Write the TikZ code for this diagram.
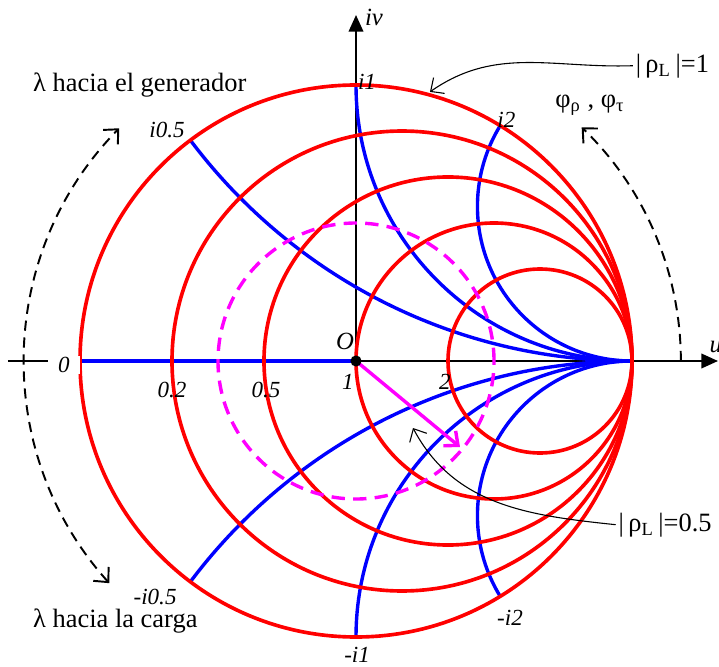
\documentclass[tikz,border=0pt]{standalone}
\usepackage{fontspec}
\setmainfont{Liberation Serif}
\usetikzlibrary{arrows.meta}
\definecolor{rhomag}{RGB}{255,0,255}
\definecolor{chartred}{RGB}{255,0,0}
\definecolor{chartblue}{RGB}{0,0,255}
\tikzset{
  axisline/.style={black, line width=0.8pt, -{Triangle[length=2.4mm,width=2.1mm]}},
  xarc/.style={chartblue, line width=1.4pt},
  rcircle/.style={chartred, line width=1.5pt},
  rhocircle/.style={rhomag, line width=1.4pt, dash pattern=on 5.5pt off 3.4pt},
  rhoarrow/.style={rhomag, line width=1.4pt, -{Straight Barb[length=1.6mm,width=2.8mm]}},
  turnarc/.style={black, line width=0.8pt, dash pattern=on 4.2pt off 2.8pt},
  leader/.style={black, line width=0.45pt, -{Straight Barb[length=1.5mm,width=2.8mm]}},
  chartlabel/.style={font=\itshape\fontsize{9.5}{11}\selectfont, inner sep=0.5pt},
  axlabel/.style={font=\itshape\fontsize{10.2}{12}\selectfont, inner sep=0pt},
  bigtext/.style={font=\fontsize{10.9}{13}\selectfont, inner sep=1pt}
}
\begin{document}
\begin{tikzpicture}[x=4cm, y=4cm]
  \useasboundingbox (-1.2899,-1.1051) rectangle (1.3152,1.3080);
  \coordinate (O) at (0,0);
  \coordinate (uleft) at (-1.261,0);
  \coordinate (uend) at (1.3116,0);
  \coordinate (vend) at (0,1.2536);
  \coordinate (rneg) at (-1,0);
  % axes
  \draw[axisline] (uleft) -- (uend);
  \draw[axisline] (O) -- (vend);
  % reactance lines
  \draw[xarc] (rneg) -- (O);
  \begin{scope}
    \clip (O) circle[radius=1];
    \foreach \rad in {2,1,0.56} {
      \draw[xarc] (1,\rad) circle[radius=\rad];
      \draw[xarc] (1,-\rad) circle[radius=\rad];
    }
  \end{scope}
  % resistance circles
  \foreach \r in {0,0.2,0.5,1,2}
    \draw[rcircle] ({\r/(1+\r)},0) circle[radius={1/(1+\r)}];
  % |rho| = 0.5
  \draw[rhocircle] (O) circle[radius=0.5];
  \coordinate (gtip) at (-39.6:0.489);
  \draw[rhoarrow] (O) -- (gtip);
  \fill (O) circle (2.3pt);

  % rotation arcs
  \draw[turnarc, {Straight Barb[length=1.6mm,width=3mm]}-{Straight Barb[length=1.6mm,width=3mm]}]
    (222:1.203) arc[start angle=222, end angle=135.5, radius=1.203];
  \draw[turnarc, -{Straight Barb[length=1.6mm,width=3mm]}]
    (0:1.177) arc[start angle=0, end angle=46, radius=1.177];

  % axis labels
  \node[axlabel] (olabel) at (-0.040,0.072) {O};
  \node[axlabel] (vlabel) at (0.065,1.245) {iv};
  \node[axlabel, anchor=west] (ulabel) at (1.279,0.051) {u};

  % chart values
  \node[chartlabel, fill=white, minimum width=0.46cm] (r0) at (-1.058,-0.014) {0};
  \node[chartlabel] (r02) at (-0.667,-0.105) {0.2};
  \node[chartlabel] (r05) at (-0.326,-0.105) {0.5};
  \node[chartlabel] (r1) at (-0.029,-0.076) {1};
  \node[chartlabel] (r2) at (0.322,-0.074) {2};
  \node[chartlabel] (xp1) at (0.040,1.010) {i1};
  \node[chartlabel] (xp05) at (-0.685,0.836) {i0.5};
  \node[chartlabel] (xp2) at (0.545,0.872) {i2};
  \node[chartlabel] (xm05) at (-0.728,-0.856) {-i0.5};
  \node[chartlabel] (xm2) at (0.558,-0.931) {-i2};
  \node[chartlabel] (xm1) at (0.004,-1.065) {-i1};

  % texts
  \node[bigtext, anchor=base west] (togen) at (-1.18,0.975) {λ hacia el generador};
  \node[bigtext, anchor=base west] (toload) at (-1.18,-0.964) {λ hacia la carga};
  \node[bigtext] (phis) at (0.848,0.928) {φ\textsubscript{ρ} , φ\textsubscript{τ}};
  \node[bigtext, anchor=base west] (rhoone) at (1.003,1.047) {|\,ρ\textsubscript{L}\,|=1};
  \node[bigtext, anchor=base west] (rhohalf) at (0.941,-0.616) {|\,ρ\textsubscript{L}\,|=0.5};

  % leaders
  \coordinate (rhoonetip) at (0.268,0.975);
  \draw[leader] (rhoone.west) to[out=182, in=35] (rhoonetip);
  \coordinate (rhohalftip) at (0.2065,-0.2428);
  \draw[leader] (rhohalf.west) to[out=174, in=-62] (rhohalftip);
\end{tikzpicture}
\end{document}
